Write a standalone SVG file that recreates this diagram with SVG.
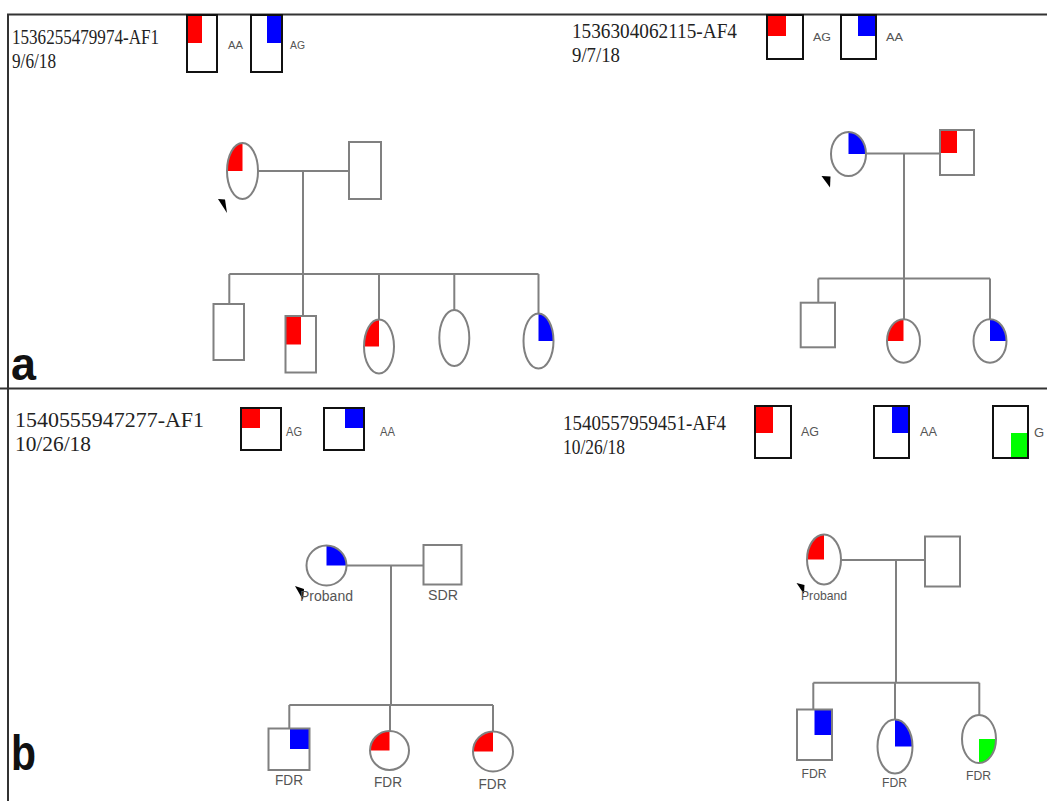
<svg xmlns="http://www.w3.org/2000/svg" width="1047" height="801" viewBox="0 0 1047 801">
  <style>
    .sym { fill: none; stroke: #808080; stroke-width: 2; }
    .line { fill: none; stroke: #808080; stroke-width: 2; }
    .leg { fill: none; stroke: #111; stroke-width: 2; }
    .frame { fill: none; stroke: #333; stroke-width: 2; }
    .red { fill: #ff0000; }
    .blue { fill: #0000ff; }
    .green { fill: #00ff00; }
    .id { font-family: "Liberation Serif", "Times New Roman", serif; fill: #222; }
    .lab { font-family: "Liberation Sans", Arial, sans-serif; fill: #555; }
    .panel { font-family: "Liberation Sans", Arial, sans-serif; font-weight: bold; fill: #111; }
  </style>
  <rect x="0" y="0" width="1047" height="801" fill="#fff"/>

  <!-- frame and panel divider -->
  <g id="frame">
    <path class="frame" d="M8,801 V14.5 H1047"/>
    <path class="frame" d="M0,388.5 H1047" stroke-width="2.5"/>
  </g>

  <!-- panel letters -->
  <text class="panel" x="11" y="380" font-size="46" textLength="25" lengthAdjust="spacingAndGlyphs">a</text>
  <text class="panel" x="11" y="770" font-size="50" textLength="25" lengthAdjust="spacingAndGlyphs">b</text>

  <!-- headers and genotype legends -->
  <g id="header-a1">
    <text class="id" x="12" y="44" font-size="20" textLength="147" lengthAdjust="spacingAndGlyphs">1536255479974-AF1</text>
    <text class="id" x="12" y="68" font-size="20" textLength="44" lengthAdjust="spacingAndGlyphs">9/6/18</text>
    <rect class="red" x="187" y="16" width="15" height="27"/>
    <rect class="leg" x="187" y="15" width="30" height="57"/>
    <text class="lab" x="228" y="49" font-size="11" textLength="15" lengthAdjust="spacingAndGlyphs">AA</text>
    <rect class="blue" x="267" y="16" width="15" height="27"/>
    <rect class="leg" x="251" y="15" width="31" height="57"/>
    <text class="lab" x="290" y="49" font-size="11" textLength="15" lengthAdjust="spacingAndGlyphs">AG</text>
  </g>
  <g id="header-a2">
    <text class="id" x="572" y="38" font-size="21" textLength="165" lengthAdjust="spacingAndGlyphs">1536304062115-AF4</text>
    <text class="id" x="572" y="62" font-size="21" textLength="48" lengthAdjust="spacingAndGlyphs">9/7/18</text>
    <rect class="red" x="768" y="16" width="18" height="20"/>
    <rect class="leg" x="767" y="15" width="36" height="44"/>
    <text class="lab" x="813" y="41" font-size="11" textLength="18" lengthAdjust="spacingAndGlyphs">AG</text>
    <rect class="blue" x="858" y="16" width="18" height="20"/>
    <rect class="leg" x="841" y="15" width="35" height="44"/>
    <text class="lab" x="886" y="41" font-size="11" textLength="17" lengthAdjust="spacingAndGlyphs">AA</text>
  </g>
  <g id="header-b1">
    <text class="id" x="15" y="427" font-size="21" textLength="189" lengthAdjust="spacingAndGlyphs">1540555947277-AF1</text>
    <text class="id" x="15" y="451" font-size="21" textLength="76" lengthAdjust="spacingAndGlyphs">10/26/18</text>
    <rect class="red" x="241" y="409" width="19" height="19"/>
    <rect class="leg" x="241" y="408" width="40" height="42"/>
    <text class="lab" x="286" y="436" font-size="12" textLength="16" lengthAdjust="spacingAndGlyphs">AG</text>
    <rect class="blue" x="345" y="409" width="19" height="19"/>
    <rect class="leg" x="324" y="408" width="40" height="42"/>
    <text class="lab" x="380" y="436" font-size="12" textLength="15" lengthAdjust="spacingAndGlyphs">AA</text>
  </g>
  <g id="header-b2">
    <text class="id" x="563" y="430" font-size="21" textLength="163" lengthAdjust="spacingAndGlyphs">1540557959451-AF4</text>
    <text class="id" x="563" y="454" font-size="21" textLength="62" lengthAdjust="spacingAndGlyphs">10/26/18</text>
    <rect class="red" x="756" y="407" width="17" height="26"/>
    <rect class="leg" x="755" y="406" width="36" height="52"/>
    <text class="lab" x="801" y="436" font-size="12" textLength="18" lengthAdjust="spacingAndGlyphs">AG</text>
    <rect class="blue" x="892" y="407" width="17" height="26"/>
    <rect class="leg" x="874" y="406" width="35" height="52"/>
    <text class="lab" x="920" y="436" font-size="12" textLength="17" lengthAdjust="spacingAndGlyphs">AA</text>
    <rect class="green" x="1011" y="433" width="17" height="24"/>
    <rect class="leg" x="993" y="406" width="35" height="52"/>
    <text class="lab" x="1034" y="437" font-size="13">G</text>
  </g>

  <!-- connectors -->
  <g id="connectors">
    <!-- family a1 -->
    <path class="line" d="M258,171 H349 M303,171 V274 M229.3,274 H538.5 M229.3,274 V304 M303,274 V316 M379,274 V319.5 M454.3,274 V310 M538.5,274 V313.5"/>
    <!-- family a2 -->
    <path class="line" d="M866,153.5 H940 M904,153.5 V278.5 M818.3,278.5 H990 M818.3,278.5 V302.7 M904,278.5 V319.3 M990,278.5 V319.3"/>
    <!-- family b1 -->
    <path class="line" d="M346.5,565.5 H423.5 M391,565.5 V705 M289.3,705 H493 M289.3,705 V728.5 M390,705 V731 M493,705 V731.5"/>
    <!-- family b2 -->
    <path class="line" d="M841,560 H925 M896,560 V682.7 M813.3,682.7 H979.3 M813.3,682.7 V709.5 M895,682.7 V719.5 M979.3,682.7 V715"/>
  </g>

  <!-- family a1 -->
  <g id="a1-mother">
    <path class="red" d="M242.5,171 L227,171 A15.5 28 0 0 1 242.5,143 Z"/>
    <ellipse class="sym" cx="242.5" cy="171" rx="15.5" ry="28"/>
    <polygon points="218,199 225,199.5 227,213" fill="#000"/>
  </g>
  <g id="a1-father">
    <rect class="sym" x="349" y="142" width="32" height="57"/>
  </g>
  <g id="a1-child1">
    <rect class="sym" x="213.5" y="304" width="30.5" height="56"/>
  </g>
  <g id="a1-child2">
    <rect class="red" x="285.5" y="316" width="15.5" height="28.5"/>
    <rect class="sym" x="285.5" y="316" width="30.5" height="56.5"/>
  </g>
  <g id="a1-child3">
    <path class="red" d="M379,346.5 L364,346.5 A15 27 0 0 1 379,319.5 Z"/>
    <ellipse class="sym" cx="379" cy="346.5" rx="15" ry="27"/>
  </g>
  <g id="a1-child4">
    <ellipse class="sym" cx="454.3" cy="338" rx="15" ry="28"/>
  </g>
  <g id="a1-child5">
    <path class="blue" d="M538.5,341 L538.5,313.5 A15 27.5 0 0 1 553.5,341 Z"/>
    <ellipse class="sym" cx="538.5" cy="341" rx="15" ry="27.5"/>
  </g>

  <!-- family a2 -->
  <g id="a2-mother">
    <path class="blue" d="M848.5,154 L848.5,132 A17.5 22 0 0 1 866,154 Z"/>
    <ellipse class="sym" cx="848.5" cy="154" rx="17.5" ry="22"/>
    <polygon points="821.5,176 830.5,176.5 830,187.5" fill="#000"/>
  </g>
  <g id="a2-father">
    <rect class="red" x="940" y="130" width="17" height="23"/>
    <rect class="sym" x="940" y="130" width="34" height="45"/>
  </g>
  <g id="a2-child1">
    <rect class="sym" x="800.7" y="302.7" width="34.3" height="44.6"/>
  </g>
  <g id="a2-child2">
    <path class="red" d="M903.5,341 L887,341 A16.5 21.7 0 0 1 903.5,319.3 Z"/>
    <ellipse class="sym" cx="903.5" cy="341" rx="16.5" ry="21.7"/>
  </g>
  <g id="a2-child3">
    <path class="blue" d="M990,341 L990,319.3 A16.5 21.7 0 0 1 1006.5,341 Z"/>
    <ellipse class="sym" cx="990" cy="341" rx="16.5" ry="21.7"/>
  </g>

  <!-- family b1 -->
  <g id="b1-mother">
    <path class="blue" d="M326.5,565.5 L326.5,545.5 A20 20 0 0 1 346.5,565.5 Z"/>
    <circle class="sym" cx="326.5" cy="565.5" r="20"/>
    <polygon points="295,586 304,589 303,600" fill="#000"/>
    <text class="lab" x="300" y="601" font-size="14" textLength="53" lengthAdjust="spacingAndGlyphs">Proband</text>
  </g>
  <g id="b1-father">
    <rect class="sym" x="423.5" y="545" width="38" height="39.5"/>
    <text class="lab" x="428" y="600" font-size="14" textLength="30" lengthAdjust="spacingAndGlyphs">SDR</text>
  </g>
  <g id="b1-child1">
    <rect class="blue" x="290" y="729" width="19.5" height="20"/>
    <rect class="sym" x="268.5" y="728.5" width="41" height="41.5"/>
    <text class="lab" x="275" y="785" font-size="14" textLength="28" lengthAdjust="spacingAndGlyphs">FDR</text>
  </g>
  <g id="b1-child2">
    <path class="red" d="M389.5,750.5 L370,750.5 A19.5 19.5 0 0 1 389.5,731 Z"/>
    <circle class="sym" cx="389.5" cy="750.5" r="19.5"/>
    <text class="lab" x="374" y="787" font-size="14" textLength="28" lengthAdjust="spacingAndGlyphs">FDR</text>
  </g>
  <g id="b1-child3">
    <path class="red" d="M493,751.5 L473,751.5 A20 20 0 0 1 493,731.5 Z"/>
    <circle class="sym" cx="493" cy="751.5" r="20"/>
    <text class="lab" x="478.5" y="788.5" font-size="14" textLength="28" lengthAdjust="spacingAndGlyphs">FDR</text>
  </g>

  <!-- family b2 -->
  <g id="b2-mother">
    <path class="red" d="M824,559.5 L807,559.5 A17 25 0 0 1 824,534.5 Z"/>
    <ellipse class="sym" cx="824" cy="559.5" rx="17" ry="25"/>
    <polygon points="796.5,583 804.5,585 804,594" fill="#000"/>
    <text class="lab" x="801" y="600" font-size="13" textLength="46" lengthAdjust="spacingAndGlyphs">Proband</text>
  </g>
  <g id="b2-father">
    <rect class="sym" x="925" y="536.5" width="35" height="50"/>
  </g>
  <g id="b2-child1">
    <rect class="blue" x="814.5" y="710" width="17.5" height="25"/>
    <rect class="sym" x="797" y="709.5" width="35" height="50.5"/>
    <text class="lab" x="801.5" y="777.5" font-size="13" textLength="25" lengthAdjust="spacingAndGlyphs">FDR</text>
  </g>
  <g id="b2-child2">
    <path class="blue" d="M895,746.5 L895,719.5 A17.5 27 0 0 1 912.5,746.5 Z"/>
    <ellipse class="sym" cx="895" cy="746.5" rx="17.5" ry="27"/>
    <text class="lab" x="882" y="786.5" font-size="13" textLength="25" lengthAdjust="spacingAndGlyphs">FDR</text>
  </g>
  <g id="b2-child3">
    <path class="green" d="M979,739 L996,739 A17 24 0 0 1 979,763 Z"/>
    <ellipse class="sym" cx="979" cy="739" rx="17" ry="24"/>
    <text class="lab" x="966" y="780" font-size="13" textLength="25" lengthAdjust="spacingAndGlyphs">FDR</text>
  </g>
</svg>
